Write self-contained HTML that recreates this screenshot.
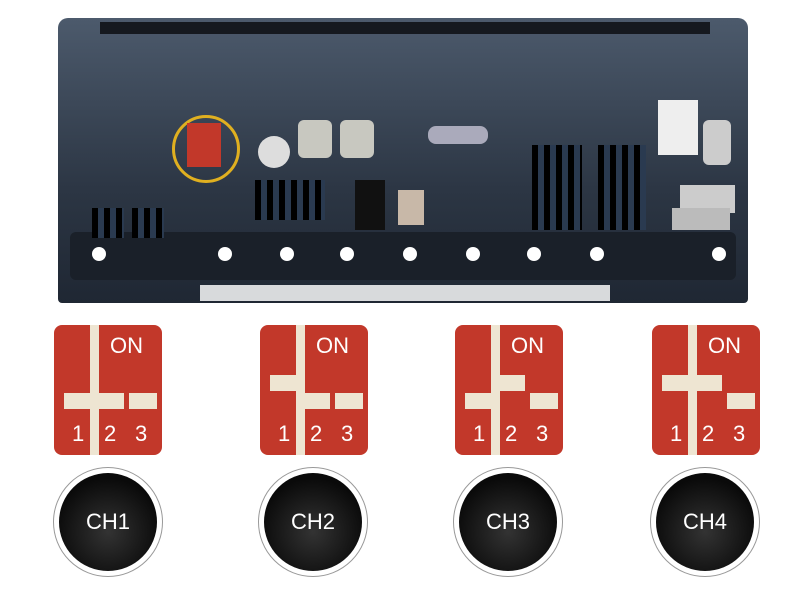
<!DOCTYPE html>
<html><head><style>
body{margin:0;width:806px;height:595px;background:#fff;position:relative;overflow:hidden;font-family:"Liberation Sans",sans-serif}
.a{position:absolute}
.dip{position:absolute;width:108px;height:130px;background:#c2382a;border-radius:8px;top:325px}
.dip .on{position:absolute;top:8px;left:56px;color:#fff;font-size:22px}
.dip .n{position:absolute;top:96px;color:#fff;font-size:22px}
.dip .v{position:absolute;left:36px;top:0;width:9px;height:130px;background:#eee5d2}
.dip .s{position:absolute;width:28px;height:16px;background:#eee5d2}
.btn{position:absolute;top:467px;width:110px;height:110px;border-radius:50%;background:#fff;border:1px solid #999;box-sizing:border-box}
.btn div{position:absolute;left:5px;top:5px;width:98px;height:98px;border-radius:50%;background:radial-gradient(circle at 50% 60%,#333,#0a0a0a 70%);color:#fff;font-size:22px;text-align:center;line-height:98px}
.hole{position:absolute;width:14px;height:14px;border-radius:50%;background:#fff;top:247px}
.pin{position:absolute;background:repeating-linear-gradient(90deg,#000 0 6px,#2a3a50 6px 12px)}
</style></head><body>
<div class="a" style="left:58px;top:18px;width:690px;height:285px;background:linear-gradient(#4c5a6c,#2c3644 60%,#1f2733);border-radius:10px 10px 4px 4px"></div>
<div class="a" style="left:100px;top:22px;width:610px;height:12px;background:#15191f"></div>
<div class="a" style="left:70px;top:232px;width:666px;height:48px;background:#1a2029;border-radius:6px"></div>
<div class="a" style="left:200px;top:285px;width:410px;height:16px;background:#d8dadc"></div>
<div class="hole" style="left:92px"></div><div class="hole" style="left:218px"></div><div class="hole" style="left:280px"></div><div class="hole" style="left:340px"></div><div class="hole" style="left:403px"></div><div class="hole" style="left:466px"></div><div class="hole" style="left:527px"></div><div class="hole" style="left:590px"></div><div class="hole" style="left:712px"></div>
<div class="a" style="left:172px;top:115px;width:62px;height:62px;border:3px solid #e0b020;border-radius:50%"></div>
<div class="a" style="left:187px;top:123px;width:34px;height:44px;background:#c2382a"></div>
<div class="a" style="left:258px;top:136px;width:32px;height:32px;border-radius:50%;background:#ddd"></div>
<div class="a" style="left:298px;top:120px;width:34px;height:38px;border-radius:6px;background:#c8c8c0"></div>
<div class="a" style="left:340px;top:120px;width:34px;height:38px;border-radius:6px;background:#c8c8c0"></div>
<div class="a" style="left:428px;top:126px;width:60px;height:18px;border-radius:8px;background:#aab"></div>
<div class="pin" style="left:532px;top:145px;width:50px;height:85px"></div>
<div class="pin" style="left:598px;top:145px;width:48px;height:85px"></div>
<div class="pin" style="left:255px;top:180px;width:70px;height:40px"></div>
<div class="pin" style="left:92px;top:208px;width:32px;height:30px"></div>
<div class="pin" style="left:132px;top:208px;width:32px;height:30px"></div>
<div class="a" style="left:355px;top:180px;width:30px;height:50px;background:#111"></div>
<div class="a" style="left:398px;top:190px;width:26px;height:35px;background:#c8b8a8"></div>
<div class="a" style="left:658px;top:100px;width:40px;height:55px;background:#eee"></div>
<div class="a" style="left:703px;top:120px;width:28px;height:45px;border-radius:6px;background:#ccc"></div>
<div class="a" style="left:680px;top:185px;width:55px;height:28px;background:#ccc"></div>
<div class="a" style="left:672px;top:208px;width:58px;height:22px;background:#bbb"></div>

<div class="dip" style="left:54px"><div class="v"></div><div class="s" style="left:10px;top:68px"></div><div class="s" style="left:42px;top:68px"></div><div class="s" style="left:75px;top:68px"></div><span class="on">ON</span><span class="n" style="left:18px">1</span><span class="n" style="left:50px">2</span><span class="n" style="left:81px">3</span></div>
<div class="dip" style="left:260px"><div class="v"></div><div class="s" style="left:10px;top:50px"></div><div class="s" style="left:42px;top:68px"></div><div class="s" style="left:75px;top:68px"></div><span class="on">ON</span><span class="n" style="left:18px">1</span><span class="n" style="left:50px">2</span><span class="n" style="left:81px">3</span></div>
<div class="dip" style="left:455px"><div class="v"></div><div class="s" style="left:10px;top:68px"></div><div class="s" style="left:42px;top:50px"></div><div class="s" style="left:75px;top:68px"></div><span class="on">ON</span><span class="n" style="left:18px">1</span><span class="n" style="left:50px">2</span><span class="n" style="left:81px">3</span></div>
<div class="dip" style="left:652px"><div class="v"></div><div class="s" style="left:10px;top:50px"></div><div class="s" style="left:42px;top:50px"></div><div class="s" style="left:75px;top:68px"></div><span class="on">ON</span><span class="n" style="left:18px">1</span><span class="n" style="left:50px">2</span><span class="n" style="left:81px">3</span></div>

<div class="btn" style="left:53px"><div>CH1</div></div>
<div class="btn" style="left:258px"><div>CH2</div></div>
<div class="btn" style="left:453px"><div>CH3</div></div>
<div class="btn" style="left:650px"><div>CH4</div></div>
</body></html>
